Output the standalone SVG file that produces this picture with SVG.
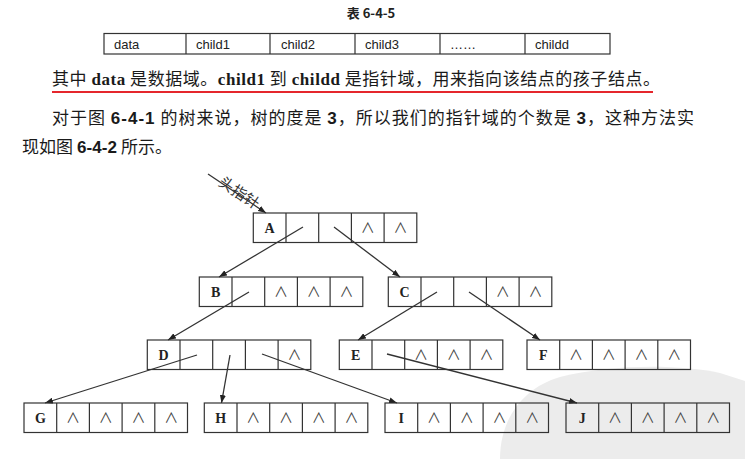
<svg xmlns="http://www.w3.org/2000/svg" xmlns:xlink="http://www.w3.org/1999/xlink" width="745" height="459" viewBox="0 0 745 459">
<style>
.cell{fill:none;stroke:#333;stroke-width:1.2}
.tbl{fill:none;stroke:#333;stroke-width:1.2}
.tt{font-family:"Liberation Sans",Arial,sans-serif;font-size:13px;fill:#222}
.body{font-family:"Noto Sans CJK SC",sans-serif;font-size:17px;fill:#1a1a1a}
.lb{font-family:"Liberation Serif","Times New Roman",serif;font-weight:bold;font-size:14px;fill:#222;text-anchor:middle}
.nl{font-family:"Noto Sans CJK SC",sans-serif;font-weight:400;font-size:14px;fill:#444;text-anchor:middle}
.con{fill:none;stroke:#333;stroke-width:1.3;marker-end:url(#ah)}
</style>
<defs>
<marker id="ah" markerWidth="8" markerHeight="6" refX="8" refY="3" orient="auto" markerUnits="userSpaceOnUse">
<path d="M0,0 L8,3 L0,6 z" fill="#222"/>
</marker>
<g id="frame">
<rect class="cell" x="0" y="0" width="163.5" height="29.5"/>
<path class="cell" d="M32.7,0V29.5M65.4,0V29.5M98.1,0V29.5M130.8,0V29.5"/>
</g>
</defs>
<rect width="745" height="459" fill="#fff"/>
<path d="M500,459 C500,420 522,388 560,377 C610,364 680,364 720,373 L745,381 L745,459 Z" fill="#ececec"/>

<g id="title">
<text x="371" y="18" font-family="'Noto Sans CJK SC',sans-serif" font-weight="bold" font-size="13" text-anchor="middle" fill="#222">表 6-4-5</text>
</g>

<g id="table">
<rect class="tbl" x="104" y="33.5" width="506" height="20.5"/>
<path class="tbl" d="M186,33.5V54M270,33.5V54M355,33.5V54M440,33.5V54M525,33.5V54"/>
<text class="tt" x="114" y="49">data</text>
<text class="tt" x="196" y="49">child1</text>
<text class="tt" x="281" y="49">child2</text>
<text class="tt" x="365" y="49">child3</text>
<text class="tt" x="450" y="49" font-family="'Noto Sans CJK SC',sans-serif">……</text>
<text class="tt" x="535" y="49">childd</text>
</g>

<g id="text">
<text class="body" x="52" y="85" textLength="608" lengthAdjust="spacing">其中 <tspan font-family="'Liberation Serif',serif" font-weight="bold">data</tspan> 是数据域。<tspan font-family="'Liberation Serif',serif" font-weight="bold">child1</tspan> 到 <tspan font-family="'Liberation Serif',serif" font-weight="bold">childd</tspan> 是指针域，用来指向该结点的孩子结点。</text>
<line x1="52" y1="92" x2="653" y2="92" stroke="#e5262c" stroke-width="2"/>
<text class="body" x="52" y="124" font-size="17.5" textLength="642" lengthAdjust="spacing">对于图 <tspan font-family="'Liberation Sans',sans-serif" font-weight="bold">6-4-1</tspan> 的树来说，树的度是 <tspan font-family="'Liberation Sans',sans-serif" font-weight="bold">3</tspan>，所以我们的指针域的个数是 <tspan font-family="'Liberation Sans',sans-serif" font-weight="bold">3</tspan>，这种方法实</text>
<text class="body" x="22" y="153" font-size="17.5" textLength="150" lengthAdjust="spacing">现如图 <tspan font-family="'Liberation Sans',sans-serif" font-weight="bold">6-4-2</tspan> 所示。</text>
</g>

<g id="head-pointer">
<text transform="translate(239,193) rotate(34)" x="0" y="5" font-family="'Noto Sans CJK SC',sans-serif" font-size="15" fill="#333" text-anchor="middle">头指针</text>
</g>

<g id="connectors">
<line class="con" x1="208" y1="174" x2="266" y2="213"/>
<line class="con" x1="303" y1="227" x2="219" y2="277"/>
<line class="con" x1="334" y1="227" x2="400" y2="277"/>
<line class="con" x1="249" y1="292" x2="168" y2="340"/>
<line class="con" x1="437" y1="292" x2="358" y2="340"/>
<line class="con" x1="469" y1="292" x2="540" y2="340"/>
<line class="con" x1="197" y1="355" x2="45" y2="403"/>
<line class="con" x1="230" y1="355" x2="221.5" y2="403"/>
<line class="con" x1="262" y1="354" x2="397" y2="403"/>
<line class="con" x1="387" y1="354" x2="577" y2="403"/>
</g>

<g id="node-A" transform="translate(253.3,213)">
<use xlink:href="#frame"/>
<text class="lb" x="16.35" y="20">A</text>
<text class="nl" x="114.45" y="20">∧</text><text class="nl" x="147.15" y="20">∧</text>
</g>
<g id="node-B" transform="translate(199.3,277)">
<use xlink:href="#frame"/>
<text class="lb" x="16.35" y="20">B</text>
<text class="nl" x="81.75" y="20">∧</text><text class="nl" x="114.45" y="20">∧</text><text class="nl" x="147.15" y="20">∧</text>
</g>
<g id="node-C" transform="translate(388.3,277)">
<use xlink:href="#frame"/>
<text class="lb" x="16.35" y="20">C</text>
<text class="nl" x="114.45" y="20">∧</text><text class="nl" x="147.15" y="20">∧</text>
</g>
<g id="node-D" transform="translate(147.3,340)">
<use xlink:href="#frame"/>
<text class="lb" x="16.35" y="20">D</text>
<text class="nl" x="147.15" y="20">∧</text>
</g>
<g id="node-E" transform="translate(339.3,340)">
<use xlink:href="#frame"/>
<text class="lb" x="16.35" y="20">E</text>
<text class="nl" x="81.75" y="20">∧</text><text class="nl" x="114.45" y="20">∧</text><text class="nl" x="147.15" y="20">∧</text>
</g>
<g id="node-F" transform="translate(527,340)">
<use xlink:href="#frame"/>
<text class="lb" x="16.35" y="20">F</text>
<text class="nl" x="49.05" y="20">∧</text><text class="nl" x="81.75" y="20">∧</text><text class="nl" x="114.45" y="20">∧</text><text class="nl" x="147.15" y="20">∧</text>
</g>
<g id="node-G" transform="translate(24,403)">
<use xlink:href="#frame"/>
<text class="lb" x="16.35" y="20">G</text>
<text class="nl" x="49.05" y="20">∧</text><text class="nl" x="81.75" y="20">∧</text><text class="nl" x="114.45" y="20">∧</text><text class="nl" x="147.15" y="20">∧</text>
</g>
<g id="node-H" transform="translate(204.3,403)">
<use xlink:href="#frame"/>
<text class="lb" x="16.35" y="20">H</text>
<text class="nl" x="49.05" y="20">∧</text><text class="nl" x="81.75" y="20">∧</text><text class="nl" x="114.45" y="20">∧</text><text class="nl" x="147.15" y="20">∧</text>
</g>
<g id="node-I" transform="translate(385,403)">
<use xlink:href="#frame"/>
<text class="lb" x="16.35" y="20">I</text>
<text class="nl" x="49.05" y="20">∧</text><text class="nl" x="81.75" y="20">∧</text><text class="nl" x="114.45" y="20">∧</text><text class="nl" x="147.15" y="20">∧</text>
</g>
<g id="node-J" transform="translate(566,403)">
<use xlink:href="#frame"/>
<text class="lb" x="16.35" y="20">J</text>
<text class="nl" x="49.05" y="20">∧</text><text class="nl" x="81.75" y="20">∧</text><text class="nl" x="114.45" y="20">∧</text><text class="nl" x="147.15" y="20">∧</text>
</g>
</svg>
